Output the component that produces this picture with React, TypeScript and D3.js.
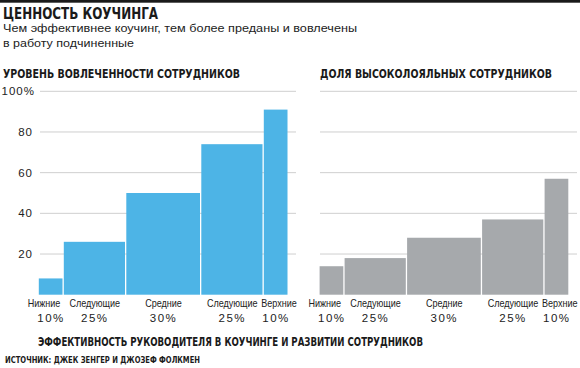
import React, { useEffect, useRef } from "react";
import * as d3 from "d3";

// managers grouped by coaching effectiveness percentile
const groups = ["Нижние", "Следующие", "Средние", "Следующие", "Верхние"];
const groupShares = [10, 25, 30, 25, 10];
const engagement = [8, 26, 50, 74, 91];
const loyalty = [14, 18, 28, 37, 57];
const yTicks = [20, 40, 60, 80, 100];

const condensed = "'Liberation Sans Narrow', 'Arial Narrow', 'DejaVu Sans Condensed', sans-serif";
const sans = "'Liberation Sans', Arial, sans-serif";

const width = 580;
const height = 368;

const App: React.FC = () => {
  const svgRef = useRef<SVGSVGElement | null>(null);

  useEffect(() => {
    const svg = d3.select(svgRef.current);
    svg.selectAll("*").remove();

    svg.append("rect").attr("width", width).attr("height", height).attr("fill", "#fff");
    svg.append("rect").attr("x", 0).attr("y", 0).attr("width", width).attr("height", 2.7).attr("fill", "#1a1a1a");

    // headings
    svg.append("text").attr("x", 3).attr("y", 18.5)
      .attr("font-family", condensed).attr("font-weight", "bold").attr("font-size", 15)
      .attr("textLength", 155).attr("lengthAdjust", "spacingAndGlyphs")
      .attr("fill", "#1a1a1a").text("ЦЕННОСТЬ КОУЧИНГА");
    const sub = ["Чем эффективнее коучинг, тем более преданы и вовлечены", "в работу подчиненные"];
    const subLen = [354, 131];
    sub.forEach((s, i) => {
      svg.append("text").attr("x", 3).attr("y", 32 + i * 15)
        .attr("font-family", sans).attr("font-size", 11.5)
        .attr("textLength", subLen[i]).attr("lengthAdjust", "spacingAndGlyphs")
        .attr("fill", "#222").text(s);
    });

    const cum = groupShares.reduce<number[]>((acc, v) => [...acc, acc[acc.length - 1] + v], [0]);

    const y = d3.scaleLinear().domain([0, 100]).range([294.7, 91.3]);

    const panels = [
      { title: "УРОВЕНЬ ВОВЛЕЧЕННОСТИ СОТРУДНИКОВ", titleX: 3, titleLen: 237, values: engagement, color: "#4db4e6", x0: 38.5, gx: [40, 296], labels: true },
      { title: "ДОЛЯ ВЫСОКОЛОЯЛЬНЫХ СОТРУДНИКОВ", titleX: 320, titleLen: 232, values: loyalty, color: "#a6a9ac", x0: 319.3, gx: [320, 577], labels: false },
    ];

    panels.forEach(p => {
      const x = d3.scaleLinear().domain([0, 100]).range([p.x0, p.x0 + 250]);
      const g = svg.append("g");

      g.append("text").attr("x", p.titleX).attr("y", 77.5)
        .attr("font-family", condensed).attr("font-weight", "bold").attr("font-size", 12)
        .attr("textLength", p.titleLen).attr("lengthAdjust", "spacingAndGlyphs")
        .attr("fill", "#1a1a1a").text(p.title);

      // grid
      g.selectAll("line.grid").data(yTicks).join("line").attr("class", "grid")
        .attr("x1", p.gx[0]).attr("x2", p.gx[1])
        .attr("y1", d => y(d)).attr("y2", d => y(d))
        .attr("stroke", "#cfcfcf").attr("stroke-width", 1);

      if (p.labels) {
        g.selectAll("text.tick").data(yTicks).join("text").attr("class", "tick")
          .attr("x", d => (d === 100 ? 35 : 33)).attr("y", d => y(d) + 4)
          .attr("text-anchor", "end")
          .attr("font-family", sans).attr("font-size", 11.5).attr("letter-spacing", 1)
          .attr("fill", "#222").text(d => (d === 100 ? "100%" : String(d)));
      }

      // bars
      g.selectAll("rect.bar").data(p.values).join("rect").attr("class", "bar")
        .attr("x", (d, i) => x(cum[i]) + 0.3)
        .attr("width", (d, i) => x(cum[i + 1]) - x(cum[i]) - 1.3)
        .attr("y", d => y(d))
        .attr("height", d => y(0) - y(d))
        .attr("fill", p.color);

      // category labels (squeezed to look condensed)
      g.selectAll("text.cat").data(groups).join("text").attr("class", "cat")
        .attr("x", (d, i) => {
          const c = (x(cum[i]) + x(cum[i + 1])) / 2;
          return i === 0 ? c - 7 : i === 4 ? c + 3 : c;
        })
        .attr("y", 307)
        .attr("text-anchor", "middle")
        .attr("font-family", sans).attr("font-size", 10.5)
        .attr("fill", "#222").text(d => d)
        .each(function () {
          const el = this as SVGTextElement;
          const w = el.getComputedTextLength();
          el.setAttribute("textLength", String(w * 0.86));
          el.setAttribute("lengthAdjust", "spacingAndGlyphs");
        });

      g.selectAll("text.share").data(groupShares).join("text").attr("class", "share")
        .attr("x", (d, i) => (x(cum[i]) + x(cum[i + 1])) / 2)
        .attr("y", 321.5)
        .attr("text-anchor", "middle")
        .attr("font-family", sans).attr("font-size", 11.5).attr("letter-spacing", 1.5)
        .attr("fill", "#222").text(d => `${d}%`);
    });

    svg.append("text").attr("x", 38).attr("y", 345.5)
      .attr("font-family", condensed).attr("font-weight", "bold").attr("font-size", 12)
      .attr("textLength", 385).attr("lengthAdjust", "spacingAndGlyphs")
      .attr("fill", "#1a1a1a").text("ЭФФЕКТИВНОСТЬ РУКОВОДИТЕЛЯ В КОУЧИНГЕ И РАЗВИТИИ СОТРУДНИКОВ");

    svg.append("text").attr("x", 5).attr("y", 363)
      .attr("font-family", condensed).attr("font-weight", "bold").attr("font-size", 9)
      .attr("textLength", 195).attr("lengthAdjust", "spacingAndGlyphs")
      .attr("fill", "#1a1a1a").text("ИСТОЧНИК: ДЖЕК ЗЕНГЕР И ДЖОЗЕФ ФОЛКМЕН");
  }, []);

  return (
    <svg
      ref={svgRef}
      width={width}
      height={height}
      style={{ position: "absolute", left: 0, top: 0 }}
    ></svg>
  );
};

export default App;
